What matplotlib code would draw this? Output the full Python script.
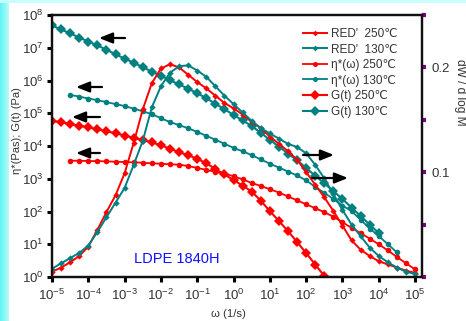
import numpy as np
import matplotlib
matplotlib.use("Agg")
import matplotlib.pyplot as plt
from matplotlib.colors import LinearSegmentedColormap

plt.rcParams['font.family'] = ['Liberation Sans', 'DejaVu Sans']
plt.rcParams['mathtext.fontset'] = 'custom'
plt.rcParams['mathtext.rm'] = 'Liberation Sans'
plt.rcParams['mathtext.it'] = 'Liberation Sans:italic'
plt.rcParams['mathtext.bf'] = 'Liberation Sans:bold'
plt.rcParams['mathtext.default'] = 'regular'

# ---------------- data (log10 omega, log10 value / value) ----------------
logw_G130 = [-5.0, -4.75, -4.5, -4.25, -4.0, -3.75, -3.5, -3.25, -3.0, -2.75, -2.5, -2.25,
             -2.0, -1.75, -1.5, -1.25, -1.0, -0.75, -0.5, -0.25, 0.0, 0.25, 0.5, 0.75,
             1.0, 1.25, 1.5, 1.75, 2.0, 2.25, 2.5, 2.75, 3.0, 3.25, 3.5, 3.75, 4.0]
logG130 = [7.68, 7.56, 7.44, 7.31, 7.19, 7.07, 6.94, 6.80, 6.67, 6.54, 6.41, 6.27,
           6.14, 6.01, 5.88, 5.75, 5.61, 5.46, 5.29, 5.12, 4.95, 4.78, 4.61, 4.40,
           4.19, 3.98, 3.77, 3.56, 3.33, 3.09, 2.86, 2.62, 2.38, 2.12, 1.86, 1.60, 1.34]

logw_G250 = [-5.0, -4.75, -4.5, -4.25, -4.0, -3.75, -3.5, -3.25, -3.0, -2.75, -2.5, -2.25,
             -2.0, -1.75, -1.5, -1.25, -1.0, -0.75, -0.5, -0.25, 0.0, 0.25, 0.5, 0.75,
             1.0, 1.25, 1.5, 1.75, 2.0, 2.25, 2.5]
logG250 = [4.77, 4.72, 4.67, 4.62, 4.57, 4.51, 4.45, 4.39, 4.32, 4.25, 4.18, 4.11,
           4.02, 3.92, 3.81, 3.72, 3.61, 3.47, 3.30, 3.13, 2.96, 2.79, 2.61, 2.33,
           2.01, 1.71, 1.40, 1.07, 0.73, 0.38, 0.03]

logw_eta130 = [-4.5, -4.25, -4.0, -3.75, -3.5, -3.25, -3.0, -2.75, -2.5, -2.25, -2.0, -1.75,
               -1.5, -1.25, -1.0, -0.75, -0.5, -0.25, 0.0, 0.25, 0.5, 0.75, 1.0, 1.25,
               1.5, 1.75, 2.0, 2.25, 2.5, 2.75, 3.0, 3.25, 3.5, 3.75, 4.0, 4.25, 4.5]
logeta130 = [5.56, 5.51, 5.45, 5.40, 5.34, 5.28, 5.22, 5.14, 5.06, 4.97, 4.85, 4.73,
             4.64, 4.54, 4.43, 4.31, 4.19, 4.07, 3.94, 3.84, 3.72, 3.59, 3.46, 3.34,
             3.22, 3.10, 2.95, 2.75, 2.57, 2.38, 2.18, 2.01, 1.75, 1.48, 1.25, 1.00, 0.75]

logw_eta250 = [-4.5, -4.25, -4.0, -3.75, -3.5, -3.25, -3.0, -2.75, -2.5, -2.25, -2.0, -1.75,
               -1.5, -1.25, -1.0, -0.75, -0.5, -0.25, 0.0, 0.25, 0.5, 0.75, 1.0, 1.25,
               1.5, 1.75, 2.0, 2.25, 2.5, 2.75, 3.0, 3.25, 3.5, 3.75, 4.0, 4.25, 4.5,
               4.75, 5.0]
logeta250 = [3.55, 3.55, 3.54, 3.54, 3.53, 3.52, 3.51, 3.50, 3.49, 3.47, 3.46, 3.44,
             3.43, 3.39, 3.33, 3.27, 3.21, 3.15, 3.08, 2.98, 2.87, 2.78, 2.68, 2.58,
             2.46, 2.34, 2.22, 2.10, 1.98, 1.84, 1.67, 1.50, 1.34, 1.17, 1.00, 0.81, 0.61,
             0.42, 0.23]

logw_RED = [-5.0, -4.75, -4.5, -4.25, -4.0, -3.75, -3.5, -3.25, -3.0, -2.75, -2.5, -2.25,
            -2.0, -1.75, -1.5, -1.25, -1.0, -0.75, -0.5, -0.25, 0.0, 0.25, 0.5, 0.75,
            1.0, 1.25, 1.5, 1.75, 2.0, 2.25, 2.5, 2.75, 3.0, 3.25, 3.5, 3.75, 4.0, 4.25,
            4.5, 4.75, 5.0]
RED250 = [0.005, 0.009, 0.014, 0.020, 0.029, 0.045, 0.062, 0.078, 0.099, 0.128, 0.160, 0.185,
          0.199, 0.203, 0.200, 0.193, 0.186, 0.180, 0.173, 0.166, 0.161, 0.155, 0.148, 0.142,
          0.134, 0.127, 0.120, 0.112, 0.100, 0.088, 0.076, 0.063, 0.049, 0.035, 0.026, 0.020,
          0.015, 0.012, 0.009, 0.006, 0.004]
RED130 = [0.008, 0.013, 0.018, 0.023, 0.030, 0.043, 0.057, 0.071, 0.085, 0.107, 0.130, 0.162,
          0.182, 0.195, 0.201, 0.202, 0.197, 0.191, 0.182, 0.173, 0.165, 0.157, 0.149, 0.142,
          0.137, 0.132, 0.127, 0.124, 0.118, 0.107, 0.094, 0.079, 0.064, 0.050, 0.039, 0.028,
          0.020, 0.014, 0.009, 0.005, 0.003]

x_ticks_exp = list(range(-5, 6))
y_ticks_exp = list(range(0, 9))
right_ticks = [0.0, 0.05, 0.1, 0.15, 0.2, 0.25]
right_labels = ['', '', '0.1', '', '0.2', '']

RED_C = '#ff0000'
TEAL = '#008080'
PURPLE = '#800080'

W, H = 466, 321
fig = plt.figure(figsize=(W / 100, H / 100), dpi=100, facecolor='white')

# background decorations (cyan strip left, cyan band top)
bg = fig.add_axes([0, 0, 9 / W, 1], zorder=-5)
grad = np.linspace(0, 1, 50).reshape(1, -1)
cm = LinearSegmentedColormap.from_list('cy', ['#5ff5f5', '#b8fbfb'])
bg.imshow(grad, aspect='auto', cmap=cm, extent=[0, 1, 0, 1])
bg.axis('off')
top = fig.add_axes([0, 1 - 3 / H, 1, 3 / H], zorder=-5)
top.axis('off')
top.add_patch(plt.Rectangle((0, 0), 1, 1, color='#c8ffff', transform=top.transAxes))

L, R, T, B = 52, 422, 15, 277
ax = fig.add_axes([L / W, 1 - B / H, (R - L) / W, (B - T) / H])
ax2 = ax.twinx()

def w(a):
    return 10 ** np.asarray(a)

h_eta250, = ax.plot(w(logw_eta250), w(logeta250), '-o', color=RED_C, ms=4.0, lw=1.3, mew=0)
h_eta130, = ax.plot(w(logw_eta130), w(logeta130), '-o', color=TEAL, ms=4.0, lw=1.3, mew=0)
h_G250, = ax.plot(w(logw_G250), w(logG250), '-D', color=RED_C, ms=5.6, lw=1.5, mew=0)
h_G130, = ax.plot(w(logw_G130), w(logG130), '-D', color=TEAL, ms=5.6, lw=1.5, mew=0)

h_R250, = ax2.plot(w(logw_RED), RED250, '-D', color=RED_C, ms=3.2, lw=1.4, mew=0)
h_R130, = ax2.plot(w(logw_RED), RED130, '-D', color=TEAL, ms=3.2, lw=1.4, mew=0)

ax.set_xscale('log')
ax.set_yscale('log')
ax.set_xlim(1e-5, 10 ** 5.19)
ax.set_ylim(1, 1e8)
ax2.set_ylim(0, 0.25)

ax.set_xticks([10.0 ** e for e in x_ticks_exp])
ax.set_xticklabels([r'$10^{%d}$' % e for e in x_ticks_exp])
ax.set_yticks([10.0 ** e for e in y_ticks_exp])
ax.set_yticklabels([r'$10^{%d}$' % e for e in y_ticks_exp])
ax.minorticks_off()
ax.tick_params(axis='both', which='major', direction='out', length=3.5, width=2.2,
               color='black', labelsize=9.5, labelcolor='#333333', pad=2.5)
ax.tick_params(axis='x', pad=4)
ax.tick_params(axis='y', right=False)
ax2.set_yticks(right_ticks)
ax2.set_yticklabels(right_labels)
ax2.tick_params(axis='y', direction='out', length=3, width=3, color=PURPLE,
                labelsize=9.5, labelcolor='#333333', pad=4)

for a in (ax, ax2):
    for s in a.spines.values():
        s.set_linewidth(1.6)
        s.set_color('#111111')

fig.text(17 / W, 1 - 131 / H, 'η*(Pas); G(t) (Pa)', rotation=90, ha='center', va='center',
         fontsize=8.0, color='#333333')
fig.text(228 / W, 1 - 314 / H, 'ω (1/s)', ha='center', va='center', fontsize=8.2,
         color='#333333')
fig.text(460 / W, 1 - 92 / H, 'dW / d log M', rotation=270, ha='center', va='center',
         fontsize=8.6, color='#333333')

fig.text(134 / W, 1 - 259 / H, 'LDPE 1840H', fontsize=10.5, color='#1010ff',
         ha='left', va='center')

def px2ax(px, py):
    return ((px - L) / (R - L), (B - py) / (B - T))

arrows = [((125, 38), (99, 38)), ((102, 87), (76, 87)), ((100, 117), (72, 117)),
          ((100, 153), (76, 153)), ((303, 155), (334, 155)), ((312, 178), (348, 178))]
for tail, head in arrows:
    ax2.annotate('', xy=px2ax(*head), xytext=px2ax(*tail), xycoords='axes fraction',
                 textcoords='axes fraction',
                 arrowprops=dict(arrowstyle='-|>,head_length=0.8,head_width=0.32',
                                 color='black', lw=1.6, shrinkA=0, shrinkB=0))

handles = [h_R250, h_R130, h_eta250, h_eta130, h_G250, h_G130]
labels = ["RED'  250\u2103", "RED'  130\u2103", 'η*(ω) 250\u2103', 'η*(ω) 130\u2103',
          'G(t) 250\u2103', 'G(t) 130\u2103']
leg = ax2.legend(handles, labels, loc='upper left', bbox_to_anchor=px2ax(303, 28),
                 frameon=False, fontsize=8.5, handlelength=2.0, handletextpad=0.4,
                 labelspacing=0.3, borderaxespad=0, borderpad=0, markerscale=0.9)
for t in leg.get_texts():
    t.set_color('#333333')

fig.savefig('out.png', dpi=100, facecolor='white')
